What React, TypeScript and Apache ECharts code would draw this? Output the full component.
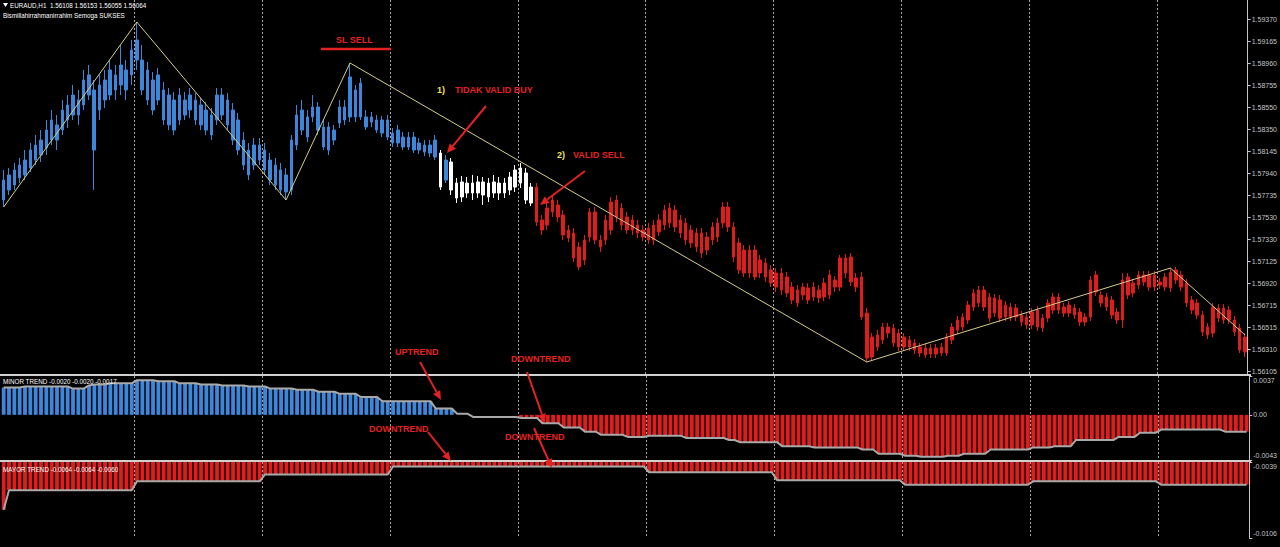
import React, { useEffect, useRef } from "react";
import * as echarts from "echarts";

// ---------- texts ----------
const symbolTitle = "EURAUD,H1  1.56108 1.56153 1.56055 1.56064";
const subTitle = "Bismillahirrahmanirrahim Semoga SUKSES";
const minorTitle = "MINOR TREND -0.0020 -0.0020 -0.0017";
const majorTitle = "MAYOR TREND -0.0064 -0.0064 -0.0060";

// ---------- axis ticks ----------
const priceTicks = [1.5937, 1.59165, 1.5896, 1.58755, 1.5855, 1.5835, 1.58145, 1.5794, 1.57735, 1.5753, 1.5733, 1.57125, 1.5692, 1.56715, 1.56515, 1.5631, 1.56105];
const minorTicks = [0.0037, 0, -0.0043];
const majorTicks = [-0.0039, -0.0106];

// ---------- candles (H1) ----------
const opens = [
  1.57694, 1.57787, 1.57833, 1.57898, 1.57926, 1.57990, 1.58064, 1.58111, 1.58176, 1.58249,
  1.58389, 1.58342, 1.58435, 1.58481, 1.58620, 1.58574, 1.58666, 1.58713, 1.58527, 1.58620,
  1.58666, 1.58852, 1.58759, 1.58898, 1.58852, 1.58990, 1.58990, 1.58898, 1.58805, 1.58620,
  1.58713, 1.58666, 1.58620, 1.58435, 1.58620, 1.58527, 1.58620, 1.58574, 1.58527, 1.58481,
  1.58435, 1.58666, 1.58620, 1.58527, 1.58435, 1.58249, 1.58157, 1.58018, 1.58203, 1.58157,
  1.58064, 1.58018, 1.57972, 1.57926, 1.57787, 1.58203, 1.58342, 1.58463, 1.58463, 1.58555,
  1.58370, 1.58157, 1.58342, 1.58407, 1.58555, 1.58463, 1.58713, 1.58463, 1.58463, 1.58416,
  1.58435, 1.58435, 1.58435, 1.58314, 1.58222, 1.58277, 1.58185, 1.58277, 1.58157, 1.58203,
  1.58129, 1.58249, 1.58129, 1.57879, 1.58046, 1.57851, 1.57722, 1.57851, 1.57759, 1.57861,
  1.57740, 1.57851, 1.57759, 1.57851, 1.57759, 1.57787, 1.57814, 1.57851, 1.57944, 1.57814,
  1.57814, 1.57509, 1.57462, 1.57583, 1.57648, 1.57555, 1.57416, 1.57388, 1.57259, 1.57138,
  1.57351, 1.57583, 1.57324, 1.57324, 1.57416, 1.57537, 1.57620, 1.57537, 1.57509, 1.57462,
  1.57416, 1.57324, 1.57324, 1.57398, 1.57462, 1.57620, 1.57601, 1.57509, 1.57481, 1.57416,
  1.57388, 1.57388, 1.57231, 1.57324, 1.57351, 1.57481, 1.57629, 1.57444, 1.57296, 1.57018,
  1.57231, 1.56981, 1.57138, 1.57111, 1.57046, 1.57018, 1.56861, 1.56981, 1.56888, 1.56861,
  1.56814, 1.56879, 1.56796, 1.56861, 1.56796, 1.56814, 1.56953, 1.56888, 1.57157, 1.56935,
  1.56972, 1.56981, 1.56647, 1.56240, 1.56333, 1.56398, 1.56518, 1.56509, 1.56462, 1.56333,
  1.56398, 1.56370, 1.56333, 1.56324, 1.56268, 1.56324, 1.56277, 1.56277, 1.56398, 1.56490,
  1.56518, 1.56583, 1.56703, 1.56740, 1.56861, 1.56796, 1.56647, 1.56768, 1.56611, 1.56703,
  1.56611, 1.56629, 1.56611, 1.56537, 1.56675, 1.56601, 1.56601, 1.56675, 1.56796, 1.56703,
  1.56647, 1.56694, 1.56657, 1.56564, 1.56611, 1.57000, 1.56814, 1.56796, 1.56768, 1.56657,
  1.56583, 1.56981, 1.56833, 1.56907, 1.57000, 1.57000, 1.56888, 1.56935, 1.56888, 1.56879,
  1.57046, 1.57000, 1.56925, 1.56768, 1.56740, 1.56629, 1.56518, 1.56462, 1.56694, 1.56583,
  1.56675, 1.56583, 1.56509, 1.56287,
];
const closes = [
  1.57879, 1.57926, 1.57972, 1.58018, 1.58064, 1.58157, 1.58203, 1.58249, 1.58342, 1.58435,
  1.58249, 1.58527, 1.58574, 1.58666, 1.58481, 1.58805, 1.58852, 1.58157, 1.58759, 1.58805,
  1.58898, 1.58713, 1.58944, 1.58713, 1.59083, 1.59176, 1.58713, 1.58620, 1.58527, 1.58852,
  1.58435, 1.58389, 1.58342, 1.58666, 1.58481, 1.58666, 1.58435, 1.58389, 1.58342, 1.58296,
  1.58666, 1.58481, 1.58389, 1.58249, 1.58157, 1.58018, 1.57926, 1.58203, 1.58064, 1.57972,
  1.57879, 1.57833, 1.57787, 1.57768, 1.58249, 1.58481, 1.58527, 1.58277, 1.58555, 1.58342,
  1.58185, 1.58370, 1.58249, 1.58555, 1.58435, 1.58833, 1.58463, 1.58777, 1.58370, 1.58463,
  1.58342, 1.58314, 1.58277, 1.58222, 1.58342, 1.58185, 1.58277, 1.58157, 1.58222, 1.58138,
  1.58203, 1.58092, 1.57814, 1.58064, 1.57787, 1.57713, 1.57861, 1.57759, 1.57851, 1.57759,
  1.57861, 1.57722, 1.57861, 1.57759, 1.57851, 1.57907, 1.57972, 1.57990, 1.57694, 1.57666,
  1.57490, 1.57416, 1.57620, 1.57694, 1.57537, 1.57370, 1.57342, 1.57157, 1.57074, 1.57324,
  1.57583, 1.57324, 1.57259, 1.57509, 1.57675, 1.57694, 1.57462, 1.57416, 1.57416, 1.57388,
  1.57351, 1.57435, 1.57462, 1.57509, 1.57601, 1.57481, 1.57444, 1.57388, 1.57324, 1.57296,
  1.57259, 1.57203, 1.57351, 1.57444, 1.57481, 1.57629, 1.57444, 1.57166, 1.57046, 1.57231,
  1.57018, 1.57231, 1.57018, 1.56981, 1.56925, 1.56888, 1.57018, 1.56833, 1.56768, 1.56740,
  1.56888, 1.56768, 1.56888, 1.56787, 1.56925, 1.57000, 1.56888, 1.57157, 1.57018, 1.57166,
  1.56888, 1.56611, 1.56231, 1.56425, 1.56444, 1.56518, 1.56462, 1.56370, 1.56333, 1.56425,
  1.56333, 1.56305, 1.56277, 1.56259, 1.56324, 1.56268, 1.56333, 1.56425, 1.56518, 1.56583,
  1.56611, 1.56722, 1.56833, 1.56861, 1.56703, 1.56601, 1.56787, 1.56601, 1.56722, 1.56611,
  1.56694, 1.56564, 1.56537, 1.56657, 1.56518, 1.56509, 1.56740, 1.56796, 1.56675, 1.56647,
  1.56722, 1.56629, 1.56564, 1.56611, 1.56953, 1.56842, 1.56740, 1.56703, 1.56629, 1.56583,
  1.56953, 1.56814, 1.56925, 1.57000, 1.56935, 1.56888, 1.57000, 1.56907, 1.56981, 1.57027,
  1.56953, 1.56888, 1.56740, 1.56675, 1.56629, 1.56472, 1.56444, 1.56703, 1.56601, 1.56694,
  1.56583, 1.56472, 1.56305, 1.56425,
];
const lows = [
  1.57629, 1.57740, 1.57787, 1.57851, 1.57879, 1.57953, 1.58018, 1.58046, 1.58111, 1.58203,
  1.58157, 1.58296, 1.58361, 1.58435, 1.58389, 1.58527, 1.58620, 1.57787, 1.58435, 1.58546,
  1.58620, 1.58620, 1.58666, 1.58620, 1.58759, 1.58898, 1.58666, 1.58574, 1.58481, 1.58574,
  1.58389, 1.58342, 1.58296, 1.58389, 1.58435, 1.58453, 1.58389, 1.58342, 1.58296, 1.58249,
  1.58389, 1.58435, 1.58342, 1.58203, 1.58111, 1.57972, 1.57879, 1.57972, 1.58018, 1.57926,
  1.57833, 1.57787, 1.57740, 1.57694, 1.57740, 1.58157, 1.58296, 1.58231, 1.58416, 1.58296,
  1.58157, 1.58111, 1.58203, 1.58361, 1.58389, 1.58416, 1.58416, 1.58435, 1.58342, 1.58370,
  1.58314, 1.58277, 1.58249, 1.58185, 1.58185, 1.58157, 1.58157, 1.58129, 1.58120, 1.58101,
  1.58092, 1.58064, 1.57787, 1.57851, 1.57740, 1.57666, 1.57675, 1.57713, 1.57694, 1.57713,
  1.57648, 1.57675, 1.57713, 1.57694, 1.57713, 1.57740, 1.57768, 1.57805, 1.57657, 1.57638,
  1.57453, 1.57370, 1.57416, 1.57537, 1.57490, 1.57324, 1.57305, 1.57120, 1.57046, 1.57092,
  1.57305, 1.57287, 1.57212, 1.57277, 1.57370, 1.57490, 1.57416, 1.57379, 1.57370, 1.57342,
  1.57314, 1.57287, 1.57277, 1.57361, 1.57416, 1.57435, 1.57398, 1.57342, 1.57277, 1.57250,
  1.57212, 1.57157, 1.57185, 1.57277, 1.57305, 1.57435, 1.57398, 1.57120, 1.57009, 1.56981,
  1.56972, 1.56953, 1.56972, 1.56935, 1.56888, 1.56842, 1.56814, 1.56796, 1.56731, 1.56703,
  1.56768, 1.56731, 1.56759, 1.56740, 1.56759, 1.56777, 1.56842, 1.56851, 1.56972, 1.56898,
  1.56842, 1.56583, 1.56194, 1.56212, 1.56296, 1.56361, 1.56416, 1.56333, 1.56296, 1.56296,
  1.56296, 1.56268, 1.56240, 1.56231, 1.56231, 1.56231, 1.56250, 1.56250, 1.56361, 1.56453,
  1.56481, 1.56546, 1.56666, 1.56703, 1.56666, 1.56564, 1.56611, 1.56564, 1.56574, 1.56574,
  1.56574, 1.56527, 1.56500, 1.56500, 1.56481, 1.56472, 1.56564, 1.56638, 1.56638, 1.56611,
  1.56611, 1.56592, 1.56527, 1.56527, 1.56574, 1.56805, 1.56703, 1.56666, 1.56592, 1.56546,
  1.56509, 1.56777, 1.56796, 1.56870, 1.56898, 1.56851, 1.56851, 1.56870, 1.56851, 1.56842,
  1.56916, 1.56851, 1.56703, 1.56638, 1.56592, 1.56435, 1.56407, 1.56425, 1.56564, 1.56546,
  1.56546, 1.56435, 1.56277, 1.56240,
];
const highs = [
  1.57972, 1.57990, 1.58037, 1.58083, 1.58157, 1.58222, 1.58296, 1.58342, 1.58435, 1.58527,
  1.58481, 1.58620, 1.58666, 1.58759, 1.58713, 1.58898, 1.58944, 1.58805, 1.58852, 1.58898,
  1.58990, 1.58944, 1.59129, 1.58990, 1.59176, 1.59342, 1.59129, 1.58972, 1.58879, 1.58916,
  1.58787, 1.58731, 1.58694, 1.58731, 1.58694, 1.58731, 1.58685, 1.58639, 1.58601, 1.58546,
  1.58731, 1.58731, 1.58685, 1.58592, 1.58500, 1.58324, 1.58222, 1.58268, 1.58268, 1.58222,
  1.58129, 1.58083, 1.58037, 1.57990, 1.58296, 1.58574, 1.58620, 1.58527, 1.58666, 1.58601,
  1.58435, 1.58416, 1.58389, 1.58620, 1.58620, 1.58963, 1.58759, 1.58824, 1.58527, 1.58509,
  1.58481, 1.58472, 1.58481, 1.58361, 1.58389, 1.58324, 1.58324, 1.58324, 1.58268, 1.58249,
  1.58249, 1.58296, 1.58157, 1.58111, 1.58083, 1.57898, 1.57916, 1.57907, 1.57926, 1.57916,
  1.57907, 1.57898, 1.57926, 1.57907, 1.57898, 1.57953, 1.58018, 1.58037, 1.57990, 1.57851,
  1.57851, 1.57555, 1.57675, 1.57740, 1.57694, 1.57601, 1.57462, 1.57435, 1.57305, 1.57370,
  1.57620, 1.57629, 1.57370, 1.57555, 1.57722, 1.57740, 1.57666, 1.57583, 1.57555, 1.57509,
  1.57462, 1.57481, 1.57509, 1.57564, 1.57648, 1.57666, 1.57648, 1.57555, 1.57527, 1.57462,
  1.57435, 1.57435, 1.57398, 1.57490, 1.57527, 1.57675, 1.57675, 1.57490, 1.57342, 1.57277,
  1.57277, 1.57277, 1.57185, 1.57157, 1.57092, 1.57064, 1.57064, 1.57027, 1.56935, 1.56907,
  1.56925, 1.56925, 1.56935, 1.56907, 1.56972, 1.57046, 1.56990, 1.57185, 1.57194, 1.57203,
  1.57018, 1.57027, 1.56694, 1.56462, 1.56490, 1.56555, 1.56555, 1.56546, 1.56500, 1.56462,
  1.56435, 1.56407, 1.56370, 1.56361, 1.56361, 1.56361, 1.56370, 1.56462, 1.56555, 1.56620,
  1.56647, 1.56759, 1.56870, 1.56898, 1.56898, 1.56833, 1.56824, 1.56814, 1.56759, 1.56740,
  1.56731, 1.56666, 1.56647, 1.56694, 1.56712, 1.56638, 1.56777, 1.56833, 1.56833, 1.56740,
  1.56759, 1.56731, 1.56694, 1.56647, 1.56990, 1.57037, 1.56851, 1.56833, 1.56805, 1.56694,
  1.57018, 1.57018, 1.56962, 1.57037, 1.57037, 1.57037, 1.57037, 1.56972, 1.57018, 1.57064,
  1.57074, 1.57037, 1.56962, 1.56805, 1.56777, 1.56666, 1.56555, 1.56740, 1.56731, 1.56731,
  1.56712, 1.56620, 1.56546, 1.56462,
];
// U = uptrend (blue), N = neutral (white), D = downtrend (red)
const candleTrend = [
  "UUUUUUUUUU", "UUUUUUUUUU", "UUUUUUUUUU", "UUUUUUUUUU",
  "UUUUUUUUUU", "UUUUUUUUUU", "UUUUUUUUUU", "UUUUUUUUUU",
  "UUNUNNNNNN", "NNNNNNNNNN",
  "DDDDDDDDDD", "DDDDDDDDDD", "DDDDDDDDDD", "DDDDDDDDDD", "DDDDDDDDDD",
  "DDDDDDDDDD", "DDDDDDDDDD", "DDDDDDDDDD", "DDDDDDDDDD", "DDDDDDDDDD",
  "DDDDDDDDDD", "DDDDDDDDDD", "DDDDDDDDDD", "DDDD",
].join("");

// ---------- zigzag ----------
const zigzagIdx = [0, 25, 53, 65, 162, 219, 233];
const zigzagPrice = [1.57629, 1.59342, 1.57694, 1.58963, 1.56194, 1.57064, 1.56444];

// ---------- MINOR TREND ----------
const minorTrend = [
  0.0026, 0.0026, 0.0026, 0.0026, 0.0027, 0.0027, 0.0027, 0.0027, 0.0027, 0.0027,
  0.0027, 0.0027, 0.0027, 0.0025, 0.0025, 0.0025, 0.0028, 0.0029, 0.0029, 0.0029,
  0.0030, 0.0030, 0.0030, 0.0030, 0.0030, 0.0033, 0.0033, 0.0033, 0.0033, 0.0032,
  0.0032, 0.0032, 0.0032, 0.0030, 0.0030, 0.0030, 0.0030, 0.0029, 0.0029, 0.0029,
  0.0029, 0.0028, 0.0028, 0.0028, 0.0028, 0.0028, 0.0027, 0.0027, 0.0027, 0.0027,
  0.0025, 0.0025, 0.0025, 0.0025, 0.0025, 0.0024, 0.0024, 0.0024, 0.0024, 0.0022,
  0.0022, 0.0022, 0.0022, 0.0020, 0.0020, 0.0020, 0.0020, 0.0017, 0.0017, 0.0017,
  0.0017, 0.0013, 0.0013, 0.0013, 0.0013, 0.0013, 0.0013, 0.0013, 0.0013, 0.0013,
  0.0013, 0.0006, 0.0006, 0.0006, 0.0006, 0.0001, 0.0001, 0.0001, -0.0002, -0.0002,
  -0.0002, -0.0002, -0.0002, -0.0002, -0.0002, -0.0002, -0.0002, -0.0003, -0.0003, -0.0003,
  -0.0003, -0.0008, -0.0008, -0.0008, -0.0008, -0.0012, -0.0012, -0.0012, -0.0012, -0.0016,
  -0.0016, -0.0016, -0.0019, -0.0019, -0.0019, -0.0019, -0.0019, -0.0021, -0.0021, -0.0021,
  -0.0021, -0.0020, -0.0020, -0.0020, -0.0020, -0.0020, -0.0020, -0.0020, -0.0022, -0.0022,
  -0.0022, -0.0022, -0.0022, -0.0022, -0.0022, -0.0022, -0.0024, -0.0024, -0.0026, -0.0026,
  -0.0026, -0.0026, -0.0026, -0.0026, -0.0026, -0.0026, -0.0030, -0.0030, -0.0030, -0.0030,
  -0.0030, -0.0030, -0.0031, -0.0031, -0.0031, -0.0031, -0.0031, -0.0031, -0.0031, -0.0031,
  -0.0031, -0.0033, -0.0033, -0.0033, -0.0037, -0.0037, -0.0037, -0.0037, -0.0037, -0.0039,
  -0.0039, -0.0039, -0.0040, -0.0040, -0.0040, -0.0040, -0.0040, -0.0039, -0.0039, -0.0039,
  -0.0037, -0.0037, -0.0037, -0.0037, -0.0037, -0.0033, -0.0033, -0.0033, -0.0033, -0.0033,
  -0.0033, -0.0033, -0.0033, -0.0031, -0.0031, -0.0031, -0.0031, -0.0030, -0.0030, -0.0030,
  -0.0030, -0.0024, -0.0024, -0.0024, -0.0024, -0.0024, -0.0024, -0.0024, -0.0024, -0.0021,
  -0.0021, -0.0021, -0.0021, -0.0017, -0.0017, -0.0017, -0.0017, -0.0014, -0.0014, -0.0014,
  -0.0014, -0.0014, -0.0014, -0.0014, -0.0014, -0.0014, -0.0014, -0.0014, -0.0014, -0.0016,
  -0.0016, -0.0016, -0.0016, -0.0016,
];

// ---------- MAYOR TREND ----------
const majorTrend = [
  -0.0081, -0.0064, -0.0064, -0.0064, -0.0064, -0.0064, -0.0064, -0.0064, -0.0064, -0.0064,
  -0.0064, -0.0064, -0.0064, -0.0064, -0.0064, -0.0064, -0.0064, -0.0064, -0.0064, -0.0064,
  -0.0064, -0.0064, -0.0064, -0.0064, -0.0064, -0.0056, -0.0056, -0.0056, -0.0056, -0.0056,
  -0.0056, -0.0056, -0.0056, -0.0056, -0.0056, -0.0056, -0.0056, -0.0056, -0.0056, -0.0056,
  -0.0056, -0.0056, -0.0056, -0.0056, -0.0056, -0.0056, -0.0056, -0.0056, -0.0056, -0.0050,
  -0.0050, -0.0050, -0.0050, -0.0050, -0.0050, -0.0050, -0.0050, -0.0050, -0.0050, -0.0050,
  -0.0050, -0.0050, -0.0050, -0.0050, -0.0050, -0.0050, -0.0050, -0.0050, -0.0050, -0.0050,
  -0.0050, -0.0050, -0.0050, -0.0043, -0.0043, -0.0043, -0.0043, -0.0043, -0.0043, -0.0043,
  -0.0043, -0.0043, -0.0043, -0.0043, -0.0043, -0.0043, -0.0043, -0.0043, -0.0043, -0.0043,
  -0.0043, -0.0043, -0.0043, -0.0043, -0.0043, -0.0043, -0.0043, -0.0043, -0.0043, -0.0043,
  -0.0043, -0.0043, -0.0043, -0.0043, -0.0043, -0.0043, -0.0043, -0.0043, -0.0043, -0.0043,
  -0.0043, -0.0043, -0.0043, -0.0043, -0.0043, -0.0043, -0.0043, -0.0043, -0.0043, -0.0043,
  -0.0043, -0.0048, -0.0048, -0.0048, -0.0048, -0.0048, -0.0048, -0.0048, -0.0048, -0.0048,
  -0.0048, -0.0048, -0.0048, -0.0048, -0.0048, -0.0048, -0.0048, -0.0048, -0.0048, -0.0048,
  -0.0048, -0.0048, -0.0048, -0.0048, -0.0048, -0.0055, -0.0055, -0.0055, -0.0055, -0.0055,
  -0.0055, -0.0055, -0.0055, -0.0055, -0.0055, -0.0055, -0.0055, -0.0055, -0.0055, -0.0055,
  -0.0055, -0.0055, -0.0055, -0.0055, -0.0055, -0.0055, -0.0055, -0.0055, -0.0055, -0.0059,
  -0.0059, -0.0059, -0.0059, -0.0059, -0.0059, -0.0059, -0.0059, -0.0059, -0.0059, -0.0059,
  -0.0059, -0.0059, -0.0059, -0.0059, -0.0059, -0.0059, -0.0059, -0.0059, -0.0059, -0.0059,
  -0.0059, -0.0059, -0.0059, -0.0056, -0.0056, -0.0056, -0.0056, -0.0056, -0.0056, -0.0056,
  -0.0056, -0.0056, -0.0056, -0.0056, -0.0056, -0.0056, -0.0056, -0.0056, -0.0056, -0.0056,
  -0.0056, -0.0056, -0.0056, -0.0056, -0.0056, -0.0056, -0.0056, -0.0059, -0.0059, -0.0059,
  -0.0059, -0.0059, -0.0059, -0.0059, -0.0059, -0.0059, -0.0059, -0.0059, -0.0059, -0.0059,
  -0.0059, -0.0059, -0.0059, -0.0059,
];

// ---------- styles ----------
const BLUE = "#3d86d9";
const RED = "#e01c1c";
const WHITE = "#ffffff";
const GREY_LINE = "#a9a9a9";
const AXIS_COLOR = "#c4c4c4";
const ZIGZAG = "#d6cc88";
const NOTE_RED = "#e42222";
const NOTE_YELLOW = "#f0e25a";
const FONT = '"Liberation Sans", Arial, sans-serif';
const HEAD_FONT = `6.3px ${FONT}`;
const NOTE_FONT = `bold 9px ${FONT}`;
const MINOR_FLAT_FROM = 85;
const MINOR_RED_FROM = 97;
const DAY_FIRST = 25;
const DAY_BARS = 24;

function edgeFormatter(min: number, max: number, fmt: (v: number) => string) {
  return (v: number) => {
    const s = fmt(v);
    if (Math.abs(v - max) < 1e-9) return " \n" + s;
    if (Math.abs(v - min) < 1e-9) return s + "\n ";
    return s;
  };
}

function arrow(x1: number, y1: number, x2: number, y2: number) {
  const dx = x2 - x1, dy = y2 - y1;
  const len = Math.hypot(dx, dy);
  const ux = dx / len, uy = dy / len;
  const hl = 9, hw = 4;
  const bx = x2 - ux * hl, by = y2 - uy * hl;
  return [
    { type: "line", z: 50, shape: { x1, y1, x2: bx, y2: by }, style: { stroke: NOTE_RED, lineWidth: 2 } },
    {
      type: "polygon", z: 50,
      shape: { points: [[x2, y2], [bx - uy * hw, by + ux * hw], [bx + uy * hw, by - ux * hw]] },
      style: { fill: NOTE_RED },
    },
  ];
}

function txt(text: string, x: number, y: number, fill: string, font: string) {
  return { type: "text", z: 60, x, y, style: { text, fill, font, textAlign: "left", textVerticalAlign: "middle" } };
}

export default function App() {
  const ref = useRef<HTMLDivElement>(null);

  useEffect(() => {
    const chart = echarts.init(ref.current!, null, { renderer: "svg" });
    const cats = opens.map((_, i) => String(i));
    const colorOf: Record<string, string> = { U: BLUE, N: WHITE, D: RED };

    const candleData = opens.map((o, i) => {
      const c = colorOf[candleTrend[i]];
      return {
        value: [o, closes[i], lows[i], highs[i]],
        itemStyle: { color: c, color0: c, borderColor: c, borderColor0: c, borderWidth: 1 },
      };
    });
    const minorBars = minorTrend.map((v, i) =>
      i < MINOR_FLAT_FROM ? { value: v, itemStyle: { color: BLUE } } : i < MINOR_RED_FROM ? "-" : { value: v, itemStyle: { color: RED } }
    );
    const zigzag = zigzagIdx.map((idx, k) => [idx, zigzagPrice[k]]);

    const xAxisBase = (gridIndex: number) => ({
      type: "category",
      gridIndex,
      data: cats,
      boundaryGap: true,
      axisLine: { show: false },
      axisTick: { show: false },
      axisLabel: { show: false },
      splitLine: {
        show: true,
        interval: (i: number) => i >= DAY_FIRST && (i - DAY_FIRST) % DAY_BARS === 0,
        lineStyle: { color: "#a8a8a8", type: [2, 2], width: 1 },
      },
    });
    const labelStyle = { color: AXIS_COLOR, fontSize: 7, fontFamily: FONT, margin: 4, lineHeight: 9 };
    const tickStyle = { show: true, length: 3, lineStyle: { color: AXIS_COLOR } };

    const option: any = {
      animation: false,
      backgroundColor: "#000000",
      grid: [
        { left: 1, right: 29, top: 0, height: 374 },
        { left: 1, right: 29, top: 376, height: 84 },
        { left: 1, right: 29, top: 462, height: 85 },
      ],
      xAxis: [xAxisBase(0), xAxisBase(1), xAxisBase(2)],
      yAxis: [
        {
          type: "value", gridIndex: 0, position: "right", min: 1.56083, max: 1.59546,
          axisLine: { show: true, lineStyle: { color: AXIS_COLOR } },
          axisTick: { ...tickStyle, customValues: priceTicks },
          axisLabel: { ...labelStyle, customValues: priceTicks, formatter: (v: number) => v.toFixed(5) },
          splitLine: { show: false },
        },
        {
          type: "value", gridIndex: 1, position: "right", min: -0.0043, max: 0.0037,
          axisLine: { show: true, lineStyle: { color: AXIS_COLOR } },
          axisTick: { ...tickStyle, customValues: minorTicks },
          axisLabel: {
            ...labelStyle, customValues: minorTicks,
            formatter: edgeFormatter(-0.0043, 0.0037, (v) => (Math.abs(v) < 1e-9 ? "0.00" : v.toFixed(4))),
          },
          splitLine: { show: false },
        },
        {
          type: "value", gridIndex: 2, position: "right", min: -0.0106, max: -0.0039,
          axisLine: { show: true, lineStyle: { color: AXIS_COLOR } },
          axisTick: { ...tickStyle, customValues: majorTicks },
          axisLabel: {
            ...labelStyle, customValues: majorTicks,
            formatter: edgeFormatter(-0.0106, -0.0039, (v) => v.toFixed(4)),
          },
          splitLine: { show: false },
        },
      ],
      series: [
        {
          type: "candlestick", xAxisIndex: 0, yAxisIndex: 0, barWidth: 3,
          data: candleData,
        },
        {
          type: "line", xAxisIndex: 0, yAxisIndex: 0, data: zigzag, symbol: "none", z: 5,
          lineStyle: { color: ZIGZAG, width: 1 },
        },
        {
          type: "bar", xAxisIndex: 1, yAxisIndex: 1, data: minorBars, barCategoryGap: "28%",
        },
        {
          type: "line", xAxisIndex: 1, yAxisIndex: 1, data: minorTrend, symbol: "none", z: 5,
          lineStyle: { color: GREY_LINE, width: 2 },
        },
        {
          type: "bar", xAxisIndex: 2, yAxisIndex: 2, data: majorTrend, barCategoryGap: "28%",
          itemStyle: { color: RED }, clip: true,
        },
        {
          type: "line", xAxisIndex: 2, yAxisIndex: 2, data: majorTrend, symbol: "none", z: 5,
          lineStyle: { color: GREY_LINE, width: 2 },
        },
      ],
      graphic: [
        { type: "line", z: 40, shape: { x1: 0, y1: 375, x2: 1251, y2: 375 }, style: { stroke: "#d0d0d0", lineWidth: 2 } },
        { type: "line", z: 40, shape: { x1: 0, y1: 461, x2: 1251, y2: 461 }, style: { stroke: "#d0d0d0", lineWidth: 2 } },
        { type: "polygon", z: 60, shape: { points: [[3, 3], [8, 3], [5.5, 7]] }, style: { fill: WHITE } },
        txt(symbolTitle, 10, 5, WHITE, HEAD_FONT),
        txt(subTitle, 3, 15, WHITE, HEAD_FONT),
        txt(minorTitle, 3, 381, WHITE, HEAD_FONT),
        txt(majorTitle, 3, 469, WHITE, HEAD_FONT),
        // annotations
        txt("SL SELL", 336, 40, NOTE_RED, NOTE_FONT),
        { type: "line", z: 50, shape: { x1: 321, y1: 49, x2: 391, y2: 49 }, style: { stroke: NOTE_RED, lineWidth: 2.5 } },
        txt("1)", 437, 90, NOTE_YELLOW, NOTE_FONT),
        txt("TIDAK VALID BUY", 455, 90, NOTE_RED, NOTE_FONT),
        ...arrow(486, 106, 447, 153),
        txt("2)", 557, 155, NOTE_YELLOW, NOTE_FONT),
        txt("VALID SELL", 573, 155, NOTE_RED, NOTE_FONT),
        ...arrow(585, 171, 540, 205),
        txt("UPTREND", 395, 352, NOTE_RED, NOTE_FONT),
        ...arrow(420, 362, 441, 400),
        txt("DOWNTREND", 511, 359, NOTE_RED, NOTE_FONT),
        ...arrow(527, 372, 545, 423),
        txt("DOWNTREND", 369, 429, NOTE_RED, NOTE_FONT),
        ...arrow(428, 432, 451, 461),
        txt("DOWNTREND", 505, 437, NOTE_RED, NOTE_FONT),
        ...arrow(534, 428, 552, 468),
      ],
    };
    chart.setOption(option);
    return () => chart.dispose();
  }, []);

  return (
    <div
      ref={ref}
      style={{ position: "fixed", left: 0, top: 0, width: 1280, height: 547, background: "#000" }}
    />
  );
}
